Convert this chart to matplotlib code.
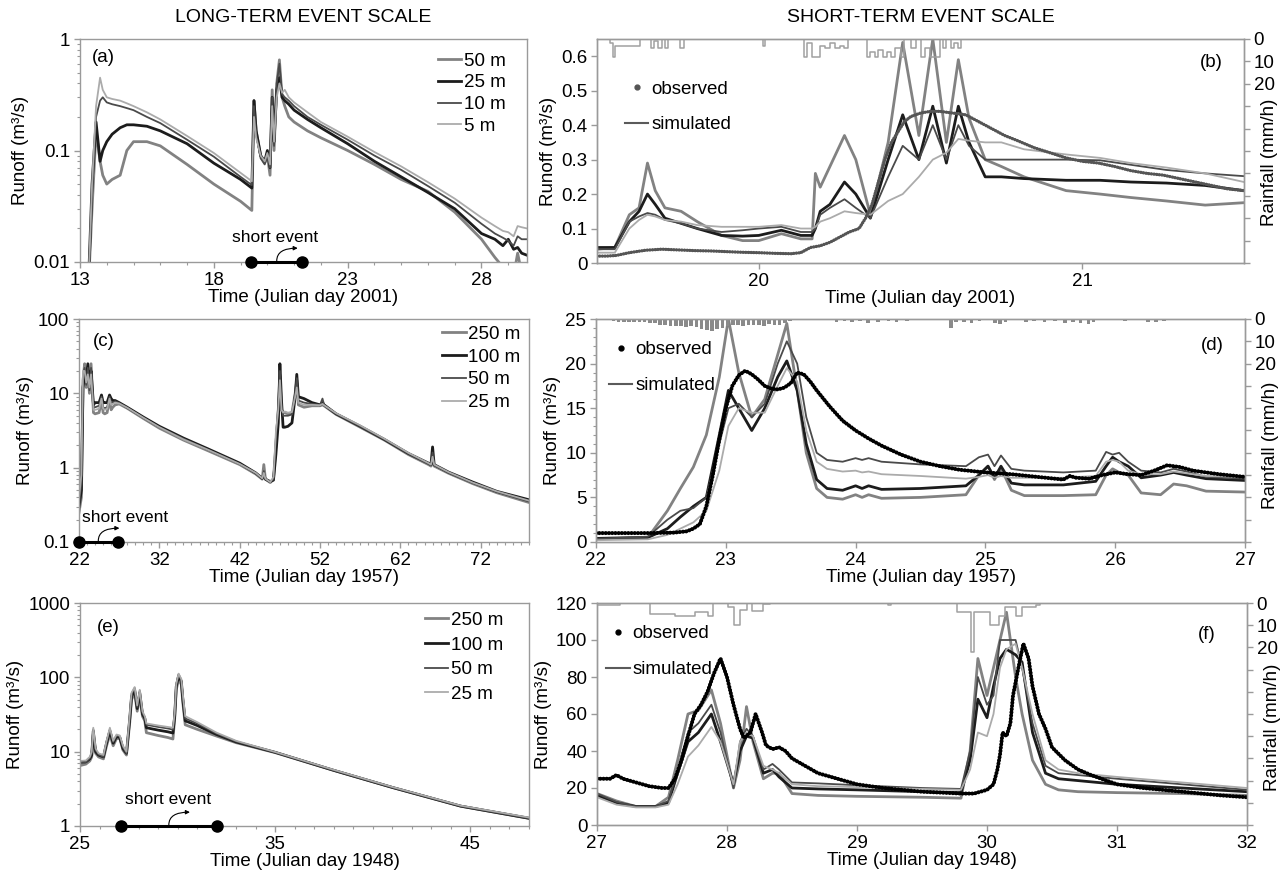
import matplotlib
matplotlib.use("Agg")
import matplotlib.pyplot as plt
import matplotlib.transforms as mtransforms
from matplotlib.lines import Line2D
from matplotlib.ticker import MultipleLocator, LogLocator, NullFormatter, FuncFormatter

plt.rcParams['font.family'] = ['Liberation Sans', 'DejaVu Sans']
plt.rcParams['font.size'] = 13.5

# ======================= DATA =======================
# ---- (a) long-term 2001 ----
a_days = [13.3, 13.45, 13.6, 13.75, 13.85, 14.0, 14.2, 14.5, 14.75, 15.0, 15.5, 16.0, 17.0, 18.0, 19.0,
          19.42, 19.5, 19.58, 19.75, 19.9, 20.0, 20.1, 20.18, 20.25, 20.35, 20.45, 20.55, 20.65, 20.8, 21.0,
          21.5, 22.0, 23.0, 24.0, 25.0, 26.0, 27.0, 28.0, 28.5, 28.8, 29.0, 29.2, 29.35, 29.5, 29.7]
a_50m = [0.005, 0.03, 0.15, 0.08, 0.06, 0.05, 0.055, 0.06, 0.1, 0.12, 0.12, 0.11, 0.075, 0.05, 0.035,
         0.029, 0.28, 0.15, 0.09, 0.077, 0.09, 0.06, 0.35, 0.1, 0.4, 0.65, 0.3, 0.25, 0.2, 0.18,
         0.15, 0.13, 0.1, 0.075, 0.055, 0.043, 0.028, 0.016, 0.011, 0.009, 0.008, 0.0075, 0.012, 0.008, 0.007]
a_25m = [0.005, 0.05, 0.18, 0.08, 0.1, 0.12, 0.14, 0.16, 0.17, 0.17, 0.165, 0.15, 0.115, 0.077, 0.055,
         0.046, 0.28, 0.15, 0.09, 0.08, 0.1, 0.07, 0.3, 0.12, 0.35, 0.45, 0.3, 0.28, 0.26, 0.23,
         0.19, 0.16, 0.115, 0.08, 0.058, 0.042, 0.03, 0.018, 0.016, 0.014, 0.016, 0.013, 0.0135, 0.012, 0.0115]
a_10m = [0.005, 0.04, 0.2, 0.28, 0.3, 0.27, 0.26, 0.25, 0.24, 0.23, 0.2, 0.176, 0.125, 0.088, 0.058,
         0.049, 0.25, 0.14, 0.085, 0.075, 0.09, 0.07, 0.3, 0.11, 0.4, 0.6, 0.32, 0.3, 0.28, 0.25,
         0.2, 0.17, 0.125, 0.09, 0.067, 0.048, 0.034, 0.022, 0.018, 0.0165, 0.0155, 0.014, 0.017, 0.016, 0.016]
a_5m = [0.005, 0.05, 0.25, 0.45, 0.35, 0.3, 0.29, 0.28, 0.265, 0.25, 0.22, 0.19, 0.135, 0.095, 0.063,
        0.053, 0.2, 0.13, 0.09, 0.08, 0.095, 0.075, 0.25, 0.12, 0.3, 0.4, 0.33, 0.35, 0.3, 0.27,
        0.22, 0.18, 0.133, 0.097, 0.072, 0.052, 0.037, 0.025, 0.021, 0.019, 0.0185, 0.017, 0.021, 0.0205, 0.02]
a_labels = ['50 m', '25 m', '10 m', '5 m']
a_xticks = [13, 18, 23, 28]
a_event = [19.4, 21.3]

# ---- (b) short-term 2001 ----
b_days = [19.5, 19.555, 19.6, 19.63, 19.656, 19.68, 19.71, 19.76, 19.81, 19.885, 19.95, 20.0, 20.07,
          20.13, 20.165, 20.175, 20.19, 20.22, 20.265, 20.3, 20.345, 20.4, 20.445, 20.495, 20.538, 20.58,
          20.617, 20.65, 20.70, 20.75, 20.82, 20.95, 21.055, 21.15, 21.26, 21.38, 21.5]
b_50m = [0.04, 0.045, 0.14, 0.16, 0.29, 0.21, 0.16, 0.15, 0.12, 0.08, 0.065, 0.065, 0.085, 0.07, 0.07,
         0.26, 0.22, 0.28, 0.37, 0.3, 0.14, 0.35, 0.64, 0.37, 0.65, 0.35, 0.59, 0.42, 0.3, 0.28, 0.25,
         0.21, 0.2, 0.19, 0.18, 0.168, 0.175]
b_25m = [0.045, 0.045, 0.12, 0.15, 0.2, 0.17, 0.13, 0.115, 0.1, 0.08, 0.078, 0.08, 0.095, 0.08, 0.08,
         0.1, 0.15, 0.17, 0.235, 0.2, 0.13, 0.3, 0.43, 0.3, 0.455, 0.29, 0.455, 0.35, 0.25, 0.25, 0.245,
         0.24, 0.24, 0.235, 0.232, 0.225, 0.21]
b_10m = [0.04, 0.04, 0.12, 0.135, 0.145, 0.14, 0.125, 0.115, 0.1, 0.09, 0.095, 0.1, 0.105, 0.09, 0.09,
         0.1, 0.14, 0.16, 0.185, 0.16, 0.13, 0.25, 0.34, 0.3, 0.4, 0.3, 0.4, 0.34, 0.3, 0.3, 0.3,
         0.3, 0.298, 0.285, 0.27, 0.26, 0.252]
b_5m = [0.03, 0.03, 0.1, 0.125, 0.14, 0.135, 0.125, 0.12, 0.11, 0.105, 0.105, 0.105, 0.11, 0.1, 0.1,
        0.105, 0.12, 0.13, 0.15, 0.145, 0.14, 0.18, 0.2, 0.25, 0.3, 0.32, 0.36, 0.355, 0.35, 0.35, 0.33,
        0.315, 0.305, 0.29, 0.277, 0.26, 0.235]
b_obs_days = [19.5, 19.53, 19.56, 19.6, 19.65, 19.7, 19.75, 19.8, 19.85, 19.9, 19.95, 20.0, 20.05, 20.1,
              20.13, 20.16, 20.19, 20.22, 20.25, 20.28, 20.31, 20.33, 20.35, 20.37, 20.39, 20.41, 20.43,
              20.45, 20.47, 20.5, 20.53, 20.56, 20.6, 20.64, 20.68, 20.72, 20.76, 20.8, 20.85, 20.9,
              20.95, 21.0, 21.05, 21.1, 21.15, 21.2, 21.25, 21.3, 21.35, 21.4, 21.45, 21.5]
b_obs = [0.02, 0.02, 0.022, 0.03, 0.037, 0.04, 0.038, 0.036, 0.035, 0.033, 0.031, 0.03, 0.028, 0.027,
         0.03, 0.045, 0.05, 0.06, 0.075, 0.09, 0.1, 0.13, 0.17, 0.235, 0.3, 0.35, 0.38,
         0.41, 0.425, 0.435, 0.44, 0.44, 0.435, 0.43, 0.41, 0.39, 0.37, 0.355, 0.335, 0.32,
         0.305, 0.295, 0.29, 0.28, 0.268, 0.26, 0.255, 0.245, 0.235, 0.225, 0.215, 0.21]
b_rain_t = [19.5, 19.54, 19.548, 19.556, 19.578, 19.634, 19.668, 19.676, 19.69, 19.70, 19.71, 19.72,
            19.758, 19.768, 20.012, 20.02, 20.14, 20.15, 20.165, 20.18, 20.19, 20.205, 20.22, 20.235,
            20.25, 20.265, 20.275, 20.335, 20.345, 20.36, 20.37, 20.385, 20.395, 20.41, 20.42, 20.44,
            20.45, 20.47, 20.485, 20.5, 20.515, 20.53, 20.56, 20.57, 20.58, 20.595, 20.605, 20.615, 20.625]
b_rain = [0, 2, 8, 3, 3, 0, 4, 1, 4, 0, 4, 0,
          4, 0, 3, 0, 8, 2, 8, 8, 3, 4, 2, 4,
          3, 4, 0, 8, 6, 8, 5, 8, 6, 8, 4, 8,
          0, 4, 0, 8, 4, 8, 0, 4, 0, 4, 2, 4, 0]
b_xticks = [20, 21]

# ---- (c) long-term 1957 ----
c_days = [22.0, 22.3, 22.5, 22.7, 22.9, 23.1, 23.3, 23.5, 23.8, 24.0, 24.5, 24.8, 25.0, 25.2, 25.5, 25.8,
          26.0, 26.2, 26.5, 27, 28, 30, 32, 35, 38, 42, 44, 44.8, 45.0, 45.2, 45.8, 46.2, 46.5, 46.8, 47.0,
          47.2, 47.4, 47.6, 48.0, 48.5, 48.9, 49.1, 49.3, 50, 51, 52, 52.3, 52.5, 54, 57, 60, 63, 65.5,
          65.8, 66.0, 66.2, 68, 71, 74, 78]
c_250m = [0.25, 0.4, 15, 25, 12, 20, 10, 25, 5.5, 5.3, 5.5, 8, 5.5, 5.3, 5.5, 8.5, 6, 6.5, 7, 7.2,
          6.3, 4.6, 3.4, 2.35, 1.7, 1.1, 0.82, 0.7, 1.1, 0.7, 0.63, 0.7, 2, 6, 18, 6, 5.5, 5.5, 5.3, 5.5,
          10, 15, 7, 6.5, 6.8, 6.8, 7, 6.8, 5.2, 3.5, 2.35, 1.5, 1.1, 1.05, 1.3, 1.05, 0.84, 0.61, 0.46, 0.34]
c_100m = [0.3, 0.5, 12, 18, 15, 25, 13, 20, 7, 7.5, 7.5, 9.5, 7.5, 7.5, 7.5, 9.5, 8.5, 8, 8, 7.5,
          6.5, 4.8, 3.6, 2.5, 1.8, 1.15, 0.85, 0.72, 0.8, 0.7, 0.65, 0.68, 1.5, 4, 25, 8, 3.5, 3.5, 3.6, 4,
          9, 18, 9, 8.5, 7.5, 7, 7.5, 7, 5.3, 3.6, 2.4, 1.55, 1.15, 1.1, 1.9, 1.1, 0.87, 0.64, 0.48, 0.37]
c_50m = [0.35, 0.6, 18, 22, 13, 22, 11, 22, 6.5, 6.5, 6.8, 9, 6.5, 6.3, 6.5, 9, 7.5, 7.5, 7.8, 7.4,
         6.4, 4.7, 3.5, 2.45, 1.75, 1.12, 0.84, 0.71, 0.9, 0.7, 0.64, 0.7, 2.5, 7, 20, 7, 5, 5, 5, 5.2,
         10, 16, 8, 7.5, 7.2, 7, 8.5, 7, 5.3, 3.6, 2.4, 1.55, 1.12, 1.08, 1.6, 1.08, 0.85, 0.62, 0.47, 0.35]
c_25m = [0.4, 0.8, 20, 20, 14, 18, 12, 18, 6, 6, 6.2, 8.5, 6.3, 6, 6.2, 8.5, 7, 7.2, 7.5, 7.3,
         6.4, 4.7, 3.5, 2.4, 1.75, 1.12, 0.85, 0.72, 0.85, 0.71, 0.64, 0.75, 3, 6, 15, 6, 5.5, 5.7, 5.5, 5.6,
         9, 12, 7.5, 7, 7, 6.9, 7.2, 6.9, 5.4, 3.7, 2.45, 1.58, 1.15, 1.1, 1.4, 1.1, 0.87, 0.63, 0.48, 0.36]
ce_labels = ['250 m', '100 m', '50 m', '25 m']
c_xticks = [22, 32, 42, 52, 62, 72]
c_event = [22.0, 26.8]

# ---- (d) short-term 1957 ----
d_days = [22.0, 22.4, 22.55, 22.65, 22.75, 22.85, 22.95, 23.02, 23.1, 23.2, 23.3, 23.4, 23.47, 23.55,
          23.62, 23.7, 23.78, 23.9, 24.0, 24.05, 24.1, 24.2, 24.5, 24.85, 24.95, 25.02, 25.07, 25.12,
          25.2, 25.3, 25.6, 25.85, 25.93, 25.98, 26.03, 26.1, 26.2, 26.35, 26.45, 26.55, 26.7, 27.0]
d_250m = [0.4, 0.5, 3.5, 6, 8.4, 12, 18.5, 25, 19, 14, 16, 21, 24.5, 17, 10, 6, 5, 4.8, 5.3, 5.0,
          5.3, 4.9, 5.0, 5.3, 7.5, 8.5, 7, 8.3, 5.8, 5.2, 5.2, 5.3, 7.5, 8.2, 7.8, 7.5, 5.5, 5.3, 6.5, 6.3,
          5.7, 5.6]
d_100m = [0.4, 0.5, 1.5, 2.8, 4, 5, 12, 17, 15, 12.5, 15, 18.5, 20.3, 17, 11, 7, 6.0, 5.8, 6.3, 6.0,
          6.3, 5.9, 6.0, 6.3, 7.5, 8.5, 7.2, 8.5, 6.6, 6.4, 6.4, 6.8, 8.5, 9.5, 9.0, 8.5, 7.2, 7.5, 7.8, 7.5,
          7.1, 6.9]
d_50m = [0.35, 0.6, 2.5, 3.5, 3.8, 5, 11, 15, 15.5, 14, 15.5, 20, 22.5, 20, 14, 10, 9.2, 9.0, 9.4, 9.2,
         9.4, 9.0, 8.7, 8.5, 9.5, 9.8, 8.5, 9.7, 8.2, 8.0, 7.8, 8.0, 10.1, 9.8, 10, 9, 8, 7.8, 8.2, 7.9,
         7.3, 7.1]
d_25m = [0.2, 0.3, 0.8, 1.5, 2.2, 3.5, 8, 13, 15, 14.5, 14.5, 17.5, 19.5, 18, 12.5, 9, 8.2, 7.9, 8.0, 7.8,
         7.9, 7.6, 7.4, 7.1, 7.3, 7.5, 7.2, 7.4, 7.2, 7.2, 7.2, 7.4, 9.0, 9.2, 9.0, 8.0, 7.6, 7.6, 7.9, 7.7,
         7.4, 7.3]
d_obs_days = [22.0, 22.2, 22.4, 22.6, 22.7, 22.75, 22.8, 22.85, 22.9, 22.95, 23.0, 23.05, 23.1, 23.15,
              23.2, 23.25, 23.3, 23.35, 23.4, 23.45, 23.5, 23.55, 23.6, 23.65, 23.7, 23.8, 23.9, 24.0,
              24.1, 24.2, 24.35, 24.5, 24.65, 24.8, 25.0, 25.2, 25.4, 25.6, 25.65, 25.7, 25.8, 25.9,
              26.0, 26.1, 26.2, 26.3, 26.4, 26.5, 26.6, 26.8, 27.0]
d_obs = [1.0, 1.0, 1.0, 1.05, 1.2, 1.5, 2.0, 4, 7.5, 11.5, 15, 17.5, 18.7, 19.2,
         18.8, 18.2, 17.5, 17.2, 17.1, 17.3, 17.8, 19.0, 18.8, 18, 17, 15.2, 13.6, 12.5,
         11.6, 10.8, 9.8, 9.0, 8.5, 8.1, 7.8, 7.6, 7.3, 7.0, 7.4, 7.2, 7.1, 7.5,
         7.8, 7.6, 7.5, 8.0, 8.6, 8.4, 8.0, 7.6, 7.3]
d_rain_t = [22.12, 22.16, 22.20, 22.24, 22.28, 22.32, 22.36, 22.40, 22.44, 22.48,
            22.52, 22.56, 22.60, 22.64, 22.68, 22.72, 22.76, 22.80, 22.84, 22.88,
            22.92, 22.96, 23.00, 23.04, 23.08, 23.12, 23.16, 23.20, 23.24, 23.28,
            23.32, 23.36, 23.40, 23.44, 23.48, 23.84, 23.90, 23.96, 24.02, 24.08,
            24.16, 24.24, 24.30, 24.38, 24.72, 24.76, 24.82, 24.88, 24.94, 25.06,
            25.10, 25.14, 25.30, 25.36, 25.44, 25.52, 25.60, 25.66, 25.72, 25.78,
            25.82, 26.06, 26.24, 26.30, 26.36]
d_rain = [1.0, 1.2, 1.5, 1.2, 1.4, 1.5, 1.3, 1.6, 2.0, 2.5,
          2.8, 3.0, 3.2, 3.0, 3.4, 3.0, 3.5, 4.5, 5.0, 5.2,
          4.5, 4.0, 3.0, 2.8, 2.5, 3.0, 2.6, 2.8, 2.5, 3.0,
          2.2, 2.8, 2.5, 2.0, 1.0, 1.2, 0.8, 1.5, 1.0, 1.8,
          1.2, 1.0, 1.5, 0.8, 4.0, 1.5, 1.2, 1.8, 1.0, 2.0,
          2.2, 1.5, 1.2, 0.8, 1.5, 1.0, 1.8, 1.2, 2.0, 2.2,
          1.5, 1.0, 1.2, 1.5, 1.0]
d_xticks = [22, 23, 24, 25, 26, 27]

# ---- (e) long-term 1948 ----
e_days = [25.0, 25.3, 25.5, 25.6, 25.68, 25.8, 25.95, 26.2, 26.36, 26.53, 26.7, 26.87, 27.04, 27.2, 27.38,
          27.55, 27.64, 27.8, 27.93, 28.06, 28.2, 28.32, 28.4, 29.0, 29.5, 29.76, 29.85, 29.93, 30.05,
          30.19, 30.27, 30.39, 31, 32, 33, 35, 38, 41, 44.5, 48]
e_250m = [6.5, 6.8, 7.5, 8.5, 17, 9.5, 8.5, 8, 12, 17, 12, 15, 15, 10.5, 9, 25, 50, 62, 35, 55,
          30, 26, 18, 16.5, 15.5, 14.8, 28, 68, 95, 80, 45, 23, 20, 16.2, 13.2, 9.7, 5.6, 3.3, 1.85, 1.27]
e_100m = [7.2, 7.3, 8, 9, 19, 10, 9, 8.5, 13, 19, 13, 16, 15.5, 11, 9.5, 28, 55, 68, 38, 62,
          32, 28, 21, 19.5, 18.5, 17.8, 30, 75, 105, 88, 50, 26, 22.5, 17, 13.5, 9.8, 5.6, 3.3, 1.85, 1.27]
e_50m = [7.0, 7.2, 8.2, 9.5, 20, 10.5, 9.2, 8.5, 13.5, 20, 13.5, 16.5, 16, 11.5, 9.5, 30, 60, 72, 40, 66,
         33, 29, 23, 21.5, 20.5, 19.8, 32, 80, 110, 92, 55, 28, 24, 17.5, 13.7, 9.8, 5.6, 3.3, 1.85, 1.27]
e_25m = [7.5, 7.6, 8.5, 10, 21, 11, 9.5, 9, 14, 21, 14, 17, 16.5, 12, 10, 32, 62, 74, 42, 68,
         35, 30, 24, 22.5, 21.5, 21, 33, 82, 112, 95, 58, 30, 25, 18, 14, 9.9, 5.7, 3.35, 1.88, 1.3]
e_xticks = [25, 35, 45]
e_event = [27.1, 32.0]

# ---- (f) short-term 1948 ----
f_days = [27.0, 27.15, 27.3, 27.45, 27.55, 27.62, 27.7, 27.78, 27.88, 27.95, 28.05, 28.1, 28.15, 28.2,
          28.28, 28.35, 28.4, 28.5, 28.7, 29.0, 29.5, 29.8, 29.87, 29.93, 30.0, 30.05, 30.1, 30.15, 30.22,
          30.27, 30.35, 30.45, 30.55, 30.7, 31.0, 31.5, 32.0]
f_250m = [17, 13, 10, 10, 15, 35, 60, 62, 73, 55, 20, 35, 64, 45, 25, 28, 28, 17, 16, 15.5,
          15, 14.5, 40, 90, 70, 85, 100, 115, 80, 60, 35, 22, 19, 18, 17.5, 17, 16]
f_100m = [16, 12, 10, 10, 12, 28, 45, 50, 60, 45, 22, 40, 48, 47, 28, 30, 26, 20, 19.5, 19,
          18, 17.5, 35, 68, 58, 75, 90, 95, 92, 88, 50, 28, 25, 24, 22, 20, 18]
f_50m = [17, 12.5, 10, 10, 13, 30, 50, 55, 65, 50, 20, 45, 52, 48, 30, 33, 30, 23, 22.5, 21.5,
         20, 19.5, 40, 80, 65, 70, 100, 100, 100, 85, 55, 32, 28, 27, 25, 22, 19]
f_25m = [15, 11, 9.5, 9.5, 11, 22, 37, 43, 53, 45, 22, 45, 50, 48, 32, 30, 28, 22, 21, 20.5,
         19.5, 19, 30, 50, 48, 60, 85, 95, 98, 85, 60, 35, 30, 28, 26, 23, 20]
f_obs_days = [27.0, 27.1, 27.15, 27.2, 27.3, 27.4, 27.5, 27.55, 27.6, 27.65, 27.7, 27.75, 27.8, 27.85,
              27.9, 27.95, 28.0, 28.05, 28.1, 28.13, 28.18, 28.22, 28.27, 28.3, 28.35, 28.4, 28.45, 28.5,
              28.55, 28.6, 28.7, 28.8, 29.0, 29.2, 29.5, 29.8, 29.9, 30.0, 30.05, 30.08, 30.1, 30.12,
              30.15, 30.18, 30.2, 30.25, 30.28, 30.32, 30.35, 30.4, 30.45, 30.5, 30.6, 30.7, 30.8, 31.0,
              31.2, 31.5, 31.8, 32.0]
f_obs = [25, 25, 27, 25, 23, 21, 20, 20, 25, 35, 48, 60, 65, 72,
         82, 90, 80, 65, 52, 47, 50, 60, 50, 43, 41, 42, 40, 36,
         34, 32, 28, 26, 22, 20, 18, 17, 17, 19, 22, 30, 38, 50,
         48, 55, 70, 88, 98, 90, 75, 60, 52, 42, 35, 30, 27, 22,
         20, 18, 16, 15]
f_rain_t = [27.0, 27.18, 27.41, 27.60, 27.75, 27.85, 27.89, 28.01, 28.05, 28.10, 28.155, 28.19, 28.28,
            28.33, 29.24, 29.26, 29.77, 29.88, 29.90, 30.02, 30.09, 30.14, 30.22, 30.27, 30.38, 30.41]
f_rain = [1, 0, 5, 6, 4, 6, 0, 2, 10, 3, 0, 3.5, 0.5, 0, 1, 0, 4, 22, 4, 10, 6, 2, 6, 2, 1, 0]
f_xticks = [27, 28, 29, 30, 31, 32]

rain_ticks = [0, 10, 20, 30, 40, 50, 60, 70, 80, 90, 100]
rain_ticklabels = ['0', '10', '20', '', '', '', '', '', '', '', '']

# ======================= STYLE / LAYOUT =======================
W, H = 1288, 873
FS = 13.5
SIM_STYLES = [dict(color='#828282', lw=2.0), dict(color='#1c1c1c', lw=2.0),
              dict(color='#4a4a4a', lw=1.3), dict(color='#ababab', lw=1.3)]
SPINE_C = '#9a9a9a'

fig = plt.figure(figsize=(W / 100, H / 100), dpi=100)
fig.patch.set_facecolor('white')


def add_ax(box):
    l, t, r, b = box
    return fig.add_axes([l / W, 1 - b / H, (r - l) / W, (b - t) / H])


def style(ax):
    for s in ax.spines.values():
        s.set_color(SPINE_C)
        s.set_linewidth(1.0)
    ax.tick_params(which='both', direction='out', color=SPINE_C, labelcolor='black', labelsize=FS, pad=3)
    ax.tick_params(which='major', length=4, width=1)
    ax.tick_params(which='minor', length=2.5, width=0.8)


def long_panel(box, days, series, labels, xlim, ylim, xticks, event, tag, tag_xy,
               leg_anchor, leg_space, xlabel, txt_x, txt_ha, txt_y):
    ax = add_ax(box)
    style(ax)
    for vals, st, lab in zip(series, SIM_STYLES, labels):
        ax.plot(days, vals, label=lab, solid_joinstyle='round', **st)
    ax.set_yscale('log')
    ax.set_xlim(*xlim)
    ax.set_ylim(*ylim)
    ax.set_xticks(xticks)
    ax.xaxis.set_minor_locator(MultipleLocator(1))
    ax.yaxis.set_major_locator(LogLocator(base=10))
    ax.yaxis.set_minor_locator(LogLocator(base=10, subs=range(2, 10)))
    ax.yaxis.set_major_formatter(FuncFormatter(lambda v, p: f'{v:g}'))
    ax.yaxis.set_minor_formatter(NullFormatter())
    ax.set_xlabel(xlabel, labelpad=0, fontsize=FS)
    ax.set_ylabel('Runoff (m³/s)', labelpad=3, fontsize=FS)
    ax.text(tag_xy[0], tag_xy[1], tag, transform=ax.transAxes, ha='left', va='center', fontsize=FS)
    ax.legend(loc='upper left', bbox_to_anchor=leg_anchor, frameon=False, handlelength=1.25,
              handletextpad=0.15, labelspacing=leg_space, borderpad=0, borderaxespad=0, fontsize=FS)
    # short event marker
    ax.plot(event, [ylim[0], ylim[0]], color='black', lw=2.2, marker='o', ms=8,
            clip_on=False, zorder=6)
    tr = mtransforms.blended_transform_factory(ax.transData, ax.transAxes)
    ax.text(txt_x, txt_y, 'short event', transform=tr, ha=txt_ha, va='center', fontsize=12.5)
    mid = 0.5 * (event[0] + event[1])
    end = mid + 0.047 * (xlim[1] - xlim[0])
    ax.annotate('', xy=(end, 0.062), xycoords=tr, xytext=(mid, 0.005), textcoords=tr,
                arrowprops=dict(arrowstyle='-|>', connectionstyle='angle3,angleA=90,angleB=0',
                                lw=0.8, color='black', mutation_scale=6, shrinkA=0, shrinkB=0))
    return ax


def short_panel(box, days, series, obs_days, obs_vals, obs_color, obs_lw, rain_t, rain_v, rain_bars,
                xlim, ylim, ystep, yminor, xticks, tag, tag_xy, leg_anchor, xlabel, rlab_y):
    ax = add_ax(box)
    style(ax)
    for vals, st in zip(series, SIM_STYLES):
        ax.plot(days, vals, solid_joinstyle='round', **st)
    ax.plot(obs_days, obs_vals, color=obs_color, lw=obs_lw, linestyle=(0, (0.05, 0.75)),
            dash_capstyle='round', zorder=4)
    ax.set_xlim(*xlim)
    ax.set_ylim(*ylim)
    ax.set_xticks(xticks)
    ax.yaxis.set_major_locator(MultipleLocator(ystep))
    if yminor:
        ax.yaxis.set_minor_locator(MultipleLocator(yminor))
    ax.yaxis.set_major_formatter(FuncFormatter(lambda v, p: f'{round(v, 3):g}'))
    ax.set_xlabel(xlabel, labelpad=0, fontsize=FS)
    ax.set_ylabel('Runoff (m³/s)', labelpad=3, fontsize=FS)
    ax.text(tag_xy[0], tag_xy[1], tag, transform=ax.transAxes, ha='right', va='center', fontsize=FS)
    handles = [Line2D([], [], ls='none', marker='o', ms=3.5, color=obs_color),
               Line2D([], [], color='#5a5a5a', lw=1.5)]
    ax.legend(handles, ['observed', 'simulated'], loc='upper left', bbox_to_anchor=leg_anchor,
              frameon=False, handlelength=1.25, handletextpad=0.15, labelspacing=1.0,
              borderpad=0, borderaxespad=0, fontsize=FS)
    ax2 = ax.twinx()
    style(ax2)
    if rain_bars:
        ax2.bar(rain_t, rain_v, width=0.028, align='edge', color='#8a8a8a', linewidth=0)
    else:
        ax2.step(rain_t, rain_v, where='post', color='#a0a0a0', lw=1.1)
    ax2.set_ylim(100, 0)
    ax2.set_yticks(rain_ticks)
    ax2.set_yticklabels(rain_ticklabels)
    ax2.set_ylabel('Rainfall (mm/h)', fontsize=FS)
    ax2.yaxis.set_label_coords(1.026, rlab_y)
    return ax


long_panel((80, 39, 527, 262), a_days, [a_50m, a_25m, a_10m, a_5m], a_labels, (13, 29.7), (0.01, 1),
           a_xticks, a_event, '(a)', (0.027, 0.915), (0.80, 0.94), 0.25, 'Time (Julian day 2001)',
           20.3, 'center', 0.112)
short_panel((597, 39, 1244, 263), b_days, [b_50m, b_25m, b_10m, b_5m], b_obs_days, b_obs, '#555555', 2.4,
            b_rain_t, b_rain, False, (19.5, 21.5), (0, 0.65), 0.1, None, b_xticks, '(b)', (0.967, 0.897),
            (0.043, 0.815), 'Time (Julian day 2001)', 0.45)

long_panel((79, 319, 529, 542), c_days, [c_250m, c_100m, c_50m, c_25m], ce_labels, (22, 78), (0.1, 100),
           c_xticks, c_event, '(c)', (0.031, 0.897), (0.807, 0.97), 0.3, 'Time (Julian day 1957)',
           22.4, 'left', 0.108)
short_panel((596, 319, 1245, 542), d_days, [d_250m, d_100m, d_50m, d_25m], d_obs_days, d_obs, 'black', 2.9,
            d_rain_t, d_rain, True, (22, 27), (0, 25), 5, 1, d_xticks, '(d)', (0.967, 0.883),
            (0.02, 0.9), 'Time (Julian day 1957)', 0.435)

long_panel((80, 603, 529, 826), e_days, [e_250m, e_100m, e_50m, e_25m], ce_labels, (25, 48), (1, 1000),
           e_xticks, e_event, '(e)', (0.038, 0.892), (0.768, 0.96), 0.4, 'Time (Julian day 1948)',
           29.5, 'center', 0.117)
short_panel((597, 603, 1247, 825), f_days, [f_250m, f_100m, f_50m, f_25m], f_obs_days, f_obs, 'black', 2.9,
            f_rain_t, f_rain, False, (27, 32), (0, 120), 20, None, f_xticks, '(f)', (0.952, 0.86),
            (0.014, 0.9), 'Time (Julian day 1948)', 0.44)

fig.text(303 / W, 1 - 18 / H, 'LONG-TERM EVENT SCALE', ha='center', va='center', fontsize=14)
fig.text(921 / W, 1 - 18 / H, 'SHORT-TERM EVENT SCALE', ha='center', va='center', fontsize=14)

fig.savefig('out.png', dpi=100, facecolor='white')
